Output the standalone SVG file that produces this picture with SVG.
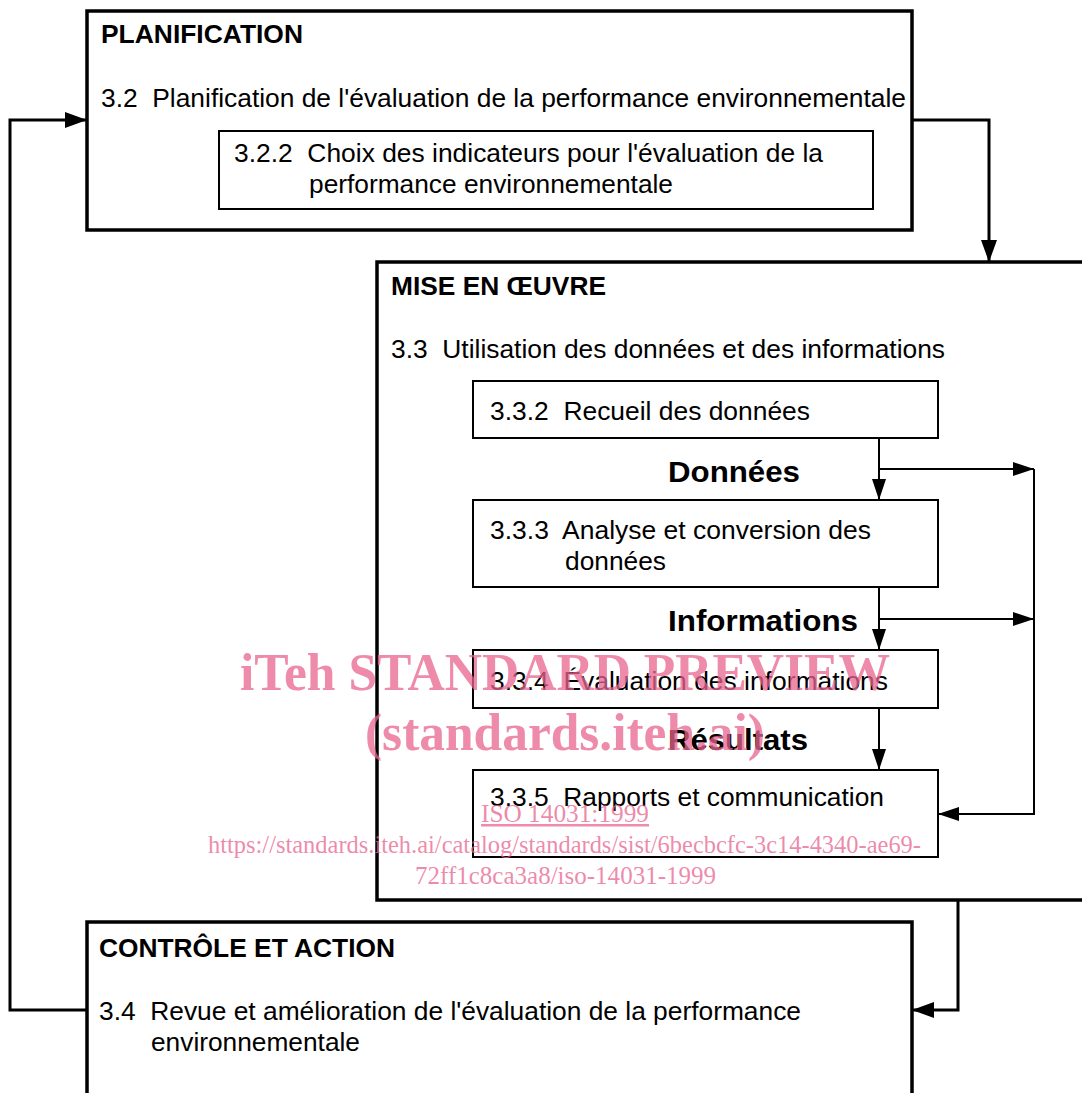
<svg xmlns="http://www.w3.org/2000/svg" width="1082" height="1093" viewBox="0 0 1082 1093" xml:space="preserve">
<style>
text{white-space:pre}
.big{fill:#fff;stroke:#000;stroke-width:3.5}
.sub{fill:#fff;stroke:#000;stroke-width:2}
.t{font-family:"Liberation Sans",Arial,sans-serif;font-size:25px;fill:#000}
.h{font-family:"Liberation Sans",Arial,sans-serif;font-size:26px;font-weight:bold;fill:#000}
.lbl{font-family:"Liberation Sans",Arial,sans-serif;font-size:29px;font-weight:bold;fill:#000}
.c{fill:none;stroke:#000;stroke-width:3}
.ci{fill:none;stroke:#000;stroke-width:2}
.wm{font-family:"Liberation Serif","Times New Roman",serif;fill:#e8648f;fill-opacity:0.75}
</style>
<defs>
<marker id="ah" markerUnits="userSpaceOnUse" markerWidth="24" markerHeight="18" refX="22" refY="8" orient="auto" viewBox="0 0 24 18">
<path d="M0,0 L22,8 L0,16 z" fill="#000"/>
</marker>
<marker id="ahs" markerUnits="userSpaceOnUse" markerWidth="24" markerHeight="16" refX="21" refY="7" orient="auto" viewBox="0 0 24 16">
<path d="M0,0 L21,7 L0,14 z" fill="#000"/>
</marker>
</defs>
<g id="planification">
<rect class="big" x="87" y="11" width="825" height="219"/>
<text class="h" x="101" y="43" textLength="202" lengthAdjust="spacingAndGlyphs">PLANIFICATION</text>
<text class="t" x="101" y="107" textLength="805" lengthAdjust="spacingAndGlyphs">3.2  Planification de l'évaluation de la performance environnementale</text>
</g>
<g id="n322">
<rect class="sub" x="219" y="131" width="654" height="78"/>
<text class="t" x="234" y="162" textLength="589" lengthAdjust="spacingAndGlyphs">3.2.2  Choix des indicateurs pour l'évaluation de la</text>
<text class="t" x="309" y="193" textLength="364" lengthAdjust="spacingAndGlyphs">performance environnementale</text>
</g>
<g id="miseenoeuvre">
<rect class="big" x="377" y="262" width="720" height="638"/>
<text class="h" x="391" y="295" textLength="215" lengthAdjust="spacingAndGlyphs">MISE EN ŒUVRE</text>
<text class="t" x="391" y="358" textLength="554" lengthAdjust="spacingAndGlyphs">3.3  Utilisation des données et des informations</text>
</g>
<g id="n332">
<rect class="sub" x="473" y="381" width="465" height="57"/>
<text class="t" x="490" y="420" textLength="320" lengthAdjust="spacingAndGlyphs">3.3.2  Recueil des données</text>
</g>
<g id="n333">
<rect class="sub" x="473" y="500" width="465" height="87"/>
<text class="t" x="490" y="539" textLength="381" lengthAdjust="spacingAndGlyphs">3.3.3  Analyse et conversion des</text>
<text class="t" x="565" y="570" textLength="101" lengthAdjust="spacingAndGlyphs">données</text>
</g>
<g id="n334">
<rect class="sub" x="473" y="650" width="465" height="58"/>
<text class="t" x="490" y="690" textLength="398" lengthAdjust="spacingAndGlyphs">3.3.4  Évaluation des informations</text>
</g>
<g id="n335">
<rect class="sub" x="473" y="770" width="465" height="87"/>
<text class="t" x="490" y="806" textLength="394" lengthAdjust="spacingAndGlyphs">3.3.5  Rapports et communication</text>
</g>
<g id="controle">
<rect class="big" x="87" y="922" width="825" height="200"/>
<text class="h" x="99" y="957" textLength="296" lengthAdjust="spacingAndGlyphs">CONTRÔLE ET ACTION</text>
<text class="t" x="99" y="1020" textLength="702" lengthAdjust="spacingAndGlyphs">3.4  Revue et amélioration de l'évaluation de la performance</text>
<text class="t" x="151" y="1051" textLength="209" lengthAdjust="spacingAndGlyphs">environnementale</text>
</g>
<g id="connectors">
<path class="c" d="M87,1010 H10 V120 H87" marker-end="url(#ah)"/>
<path class="c" d="M912,120 H989 V262" marker-end="url(#ah)"/>
<path class="c" d="M958,900 V1010 H912" marker-end="url(#ah)"/>
<path class="ci" d="M879,438 V500" marker-end="url(#ahs)"/>
<path class="ci" d="M879,469 H1034" marker-end="url(#ahs)"/>
<path class="ci" d="M879,587 V650" marker-end="url(#ahs)"/>
<path class="ci" d="M879,619 H1034" marker-end="url(#ahs)"/>
<path class="ci" d="M879,708 V770" marker-end="url(#ahs)"/>
<path class="ci" d="M1034,469 V814 H938" marker-end="url(#ahs)"/>
<text class="lbl" x="668" y="482" textLength="132" lengthAdjust="spacingAndGlyphs">Données</text>
<text class="lbl" x="668" y="631" textLength="190" lengthAdjust="spacingAndGlyphs">Informations</text>
<text class="lbl" x="668" y="750" textLength="140" lengthAdjust="spacingAndGlyphs">Résultats</text>
</g>
<g id="watermark">
<text class="wm" x="240" y="690" font-size="52" font-weight="bold" textLength="650" lengthAdjust="spacingAndGlyphs">iTeh STANDARD PREVIEW</text>
<text class="wm" x="365" y="750" font-size="52" font-weight="bold" textLength="400" lengthAdjust="spacingAndGlyphs">(standards.iteh.ai)</text>
<text class="wm" x="481" y="822" font-size="25" text-decoration="underline" textLength="168" lengthAdjust="spacingAndGlyphs">ISO 14031:1999</text>
<text class="wm" x="208" y="853" font-size="26" textLength="713" lengthAdjust="spacingAndGlyphs">https://standards.iteh.ai/catalog/standards/sist/6becbcfc-3c14-4340-ae69-</text>
<text class="wm" x="415" y="884" font-size="26" textLength="301" lengthAdjust="spacingAndGlyphs">72ff1c8ca3a8/iso-14031-1999</text>
</g>
</svg>
